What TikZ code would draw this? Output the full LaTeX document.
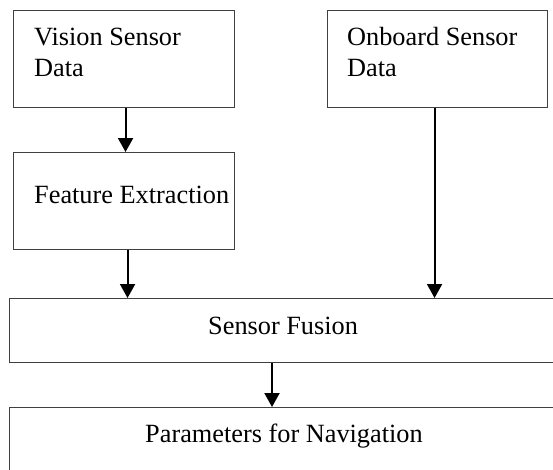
\documentclass[tikz,border=0pt]{standalone}
\usepackage{fontspec}
\setmainfont{Liberation Serif}
\usetikzlibrary{arrows.meta,positioning}

\begin{document}
\begin{tikzpicture}[x=1pt,y=-1pt,
  flow/.style={-{Triangle[length=14pt,width=15pt]},line width=2pt},
  box/.style={draw=black!75,line width=1.1pt,inner sep=0pt,anchor=north west},
  txt/.style={anchor=base west,inner sep=0pt,align=left,font=\fontsize{26.3}{31}\selectfont}
]
  \useasboundingbox (0,0) rectangle (553,469);
  \clip (0,0) rectangle (553,469);

  % sensor inputs (base of a two-line text is its last line)
  \node[box,minimum width=221pt,minimum height=97pt] (vis) at (13,10) {};
  \node[box,minimum width=220pt,minimum height=97pt] (onb) at (327,10) {};
  \node[txt] (vistxt) at (34,76) {Vision Sensor\\Data};
  \node[txt] (onbtxt) at (347,76) {Onboard Sensor\\Data};

  \node[box,minimum width=221pt,minimum height=97pt] (feat) at (13,152) {};
  \node[txt] (feattxt) at (34,203) {Feature Extraction};

  % wide boxes run past the right edge
  \node[box,minimum width=600pt,minimum height=64pt] (fus) at (8.5,298) {};
  \node[txt] (fustxt) at (208,334) {Sensor Fusion};
  \node[box,minimum width=600pt,minimum height=100pt] (par) at (8.5,407) {};
  \node[txt] (partxt) at (145,442) {Parameters for Navigation};

  \draw[flow] ([xshift=1.5pt]vis.south) -- ([xshift=1.5pt]feat.north);
  \draw[flow] ([xshift=3.5pt]feat.south) -- ([xshift=3.5pt]feat.south |- fus.north);
  \draw[flow] ([xshift=-3pt]onb.south) -- ([xshift=-3pt]onb.south |- fus.north);
  \draw[flow] ([xshift=263.5pt]fus.south west) -- ([xshift=263.5pt]par.north west);
\end{tikzpicture}
\end{document}
